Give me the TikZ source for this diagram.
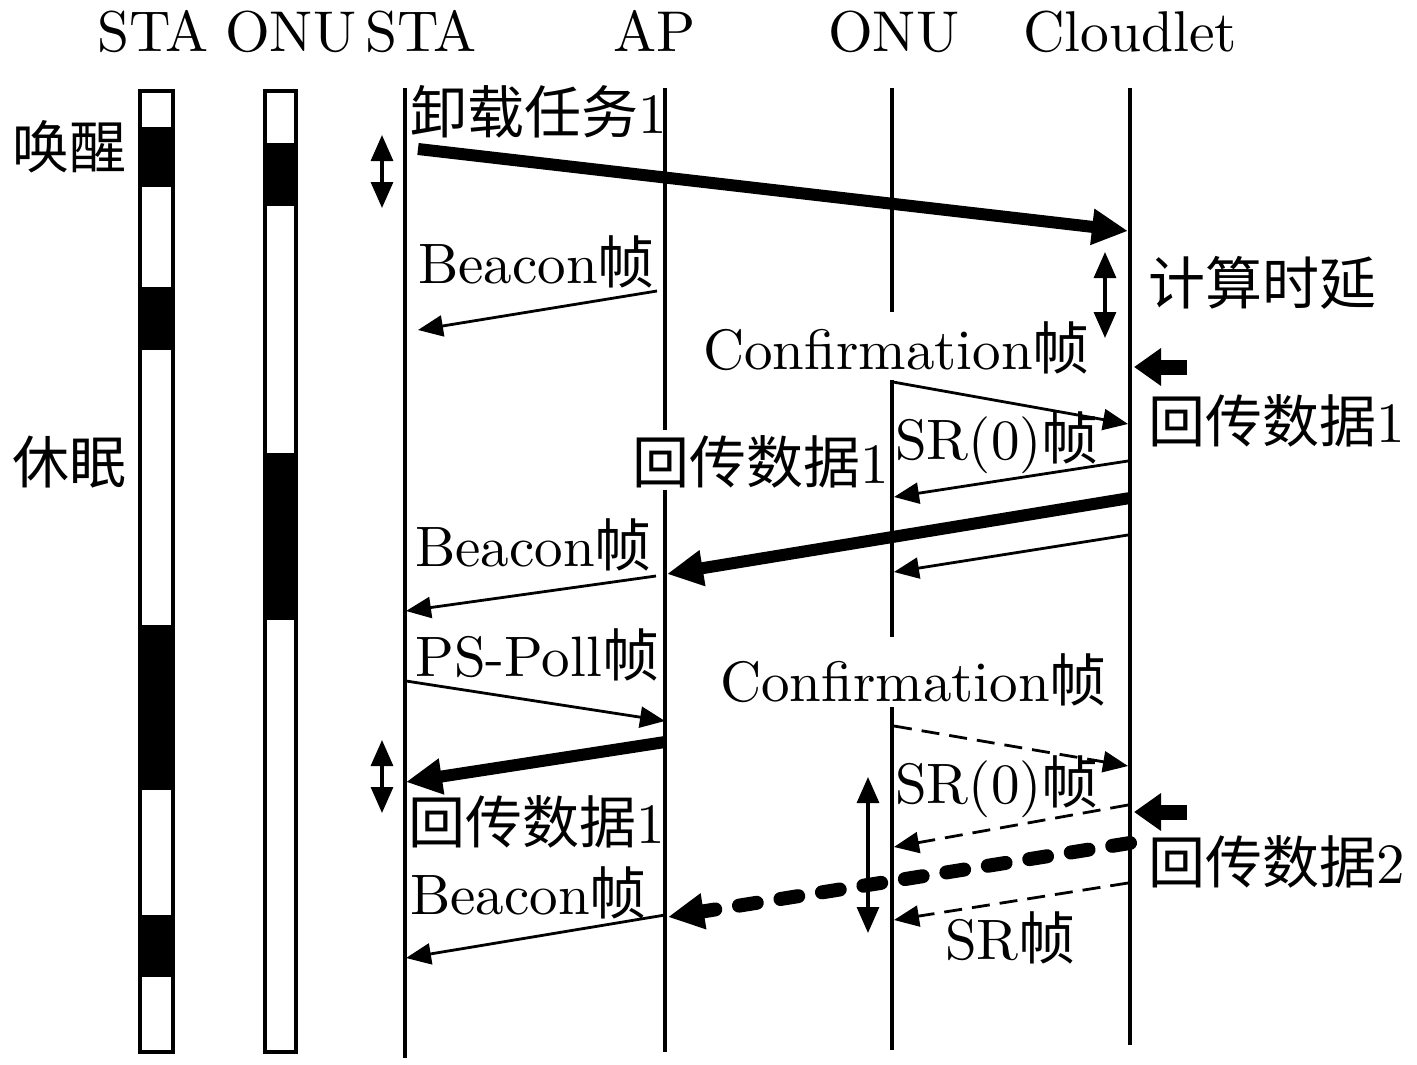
\documentclass[tikz,border=0pt]{standalone}
\usepackage{fontspec}
\setmainfont{lmroman10-regular.otf}
\newfontfamily\cjk{Noto Sans CJK SC}
\usetikzlibrary{arrows.meta}
\begin{document}
\begin{tikzpicture}[x=1pt,y=-1pt,
  life/.style={line width=3.5pt},
  barbox/.style={draw,line width=3.5pt},
  lbl/.style={inner sep=0pt,anchor=west,font=\fontsize{57}{62}\selectfont},
  hdr/.style={inner sep=0pt,anchor=base west,font=\fontsize{57.5}{62}\selectfont},
  thinarr/.style={line width=2.8pt,-{Triangle[length=25pt,width=21pt]}},
  thickarr/.style={line width=12pt,-{Triangle[length=36pt,width=34pt]}},
  dbl/.style={line width=3.2pt,{Triangle[length=26pt,width=22pt]}-{Triangle[length=26pt,width=22pt]}},
  blockarr/.style={line width=15pt,-{Triangle[length=27pt,width=36pt]}},
  dsh/.style={dash pattern=on 18pt off 10pt},
  thickdsh/.style={line width=14pt,line cap=round,dash pattern=on 18pt off 24pt}
]
\useasboundingbox (0,0) rectangle (1417,1065);
% headers
\node[hdr] (h1) at (97,52) {STA};
\node[hdr] (h2) at (225,52) {ONU};
\node[hdr] (h3) at (365,52) {STA};
\node[hdr] (h4) at (613,52) {AP};
\node[hdr] (h5) at (828,52) {ONU};
\node[hdr] (h6) at (1023,52) {Cloudlet};
% left labels
\node[lbl] (wake) at (12,147) {\cjk 唤醒};
\node[lbl] (sleep) at (12,462) {\cjk 休眠};
% STA bar
\fill (140,127) rectangle (173,187);
\fill (140,287) rectangle (173,350);
\fill (140,625) rectangle (173,790);
\fill (140,915) rectangle (173,977);
\draw[barbox] (140,91) rectangle (173,1052);
% ONU bar
\fill (265,143) rectangle (296,206);
\fill (265,453) rectangle (296,620);
\draw[barbox] (265,91) rectangle (296,1052);
% lifelines
\coordinate (staT) at (405,88); \coordinate (staB) at (405,1058);
\draw[life] (staT) -- (staB);
\coordinate (apT) at (665,88); \coordinate (apG1) at (665,430);
\coordinate (apG2) at (665,490); \coordinate (apB) at (665,1052);
\draw[life] (apT) -- (apG1) (apG2) -- (apB);
\coordinate (onuT) at (892,88); \coordinate (onuG1) at (892,312);
\coordinate (onuG2) at (892,380); \coordinate (onuG3) at (892,637);
\coordinate (onuG4) at (892,707); \coordinate (onuB) at (892,1050);
\draw[life] (onuT) -- (onuG1) (onuG2) -- (onuG3) (onuG4) -- (onuB);
\coordinate (clT) at (1130,88); \coordinate (clB) at (1130,1045);
\draw[life] (clT) -- (clB);
% labels
\node[lbl] (t1) at (410,112) {{\cjk 卸载任务}1};
\node[lbl] (t2) at (418,262) {Beacon{\cjk 帧}};
\node[lbl] (t3) at (1148,283) {\cjk 计算时延};
\node[lbl] (t4) at (703,348) {Confirmation{\cjk 帧}};
\node[lbl] (t5) at (1148,421) {{\cjk 回传数据}1};
\node[lbl] (t6) at (895,443) {SR(0){\cjk 帧}};
\node[lbl] (t7) at (632,462) {{\cjk 回传数据}1};
\node[lbl] (t8) at (415,545) {Beacon{\cjk 帧}};
\node[lbl] (t9) at (415,655) {PS-Poll{\cjk 帧}};
\node[lbl] (t10) at (720,680) {Confirmation{\cjk 帧}};
\node[lbl] (t11) at (895,787) {SR(0){\cjk 帧}};
\node[lbl] (t12) at (408,822) {{\cjk 回传数据}1};
\node[lbl] (t13) at (1148,862) {{\cjk 回传数据}2};
\node[lbl] (t14) at (410,893) {Beacon{\cjk 帧}};
\node[lbl] (t15) at (945,938) {SR{\cjk 帧}};
% message endpoints
\coordinate (m1a) at (418,149); \coordinate (m1b) at (1128,231);
\coordinate (m2a) at (657,291); \coordinate (m2b) at (418,330);
\coordinate (m3a) at (382,135); \coordinate (m3b) at (382,208);
\coordinate (m4a) at (1105,252); \coordinate (m4b) at (1105,338);
\coordinate (m5a) at (1187,367); \coordinate (m5b) at (1134,367);
\coordinate (m6a) at (893,382); \coordinate (m6b) at (1128,424);
\coordinate (m7a) at (1128,461); \coordinate (m7b) at (894,497);
\coordinate (m8a) at (1130,498); \coordinate (m8b) at (667,574);
\coordinate (m9a) at (1128,535); \coordinate (m9b) at (894,572);
\coordinate (m10a) at (656,576); \coordinate (m10b) at (406,611);
\coordinate (m11a) at (406,681); \coordinate (m11b) at (665,721);
\coordinate (m12a) at (665,742); \coordinate (m12b) at (406,782);
\coordinate (m13a) at (382,740); \coordinate (m13b) at (382,813);
\coordinate (m14a) at (894,726); \coordinate (m14b) at (1128,766);
\coordinate (m15a) at (1187,812); \coordinate (m15b) at (1134,812);
\coordinate (m16a) at (1128,805); \coordinate (m16b) at (894,847);
\coordinate (m17a) at (1130,843); \coordinate (m17b) at (668,917);
\coordinate (m18a) at (1128,883); \coordinate (m18b) at (894,920);
\coordinate (m19a) at (868,777); \coordinate (m19b) at (868,933);
\coordinate (m20a) at (665,915); \coordinate (m20b) at (406,958);
% messages
\draw[thickarr] (m1a) -- (m1b);
\draw[thinarr] (m2a) -- (m2b);
\draw[dbl] (m3a) -- (m3b);
\draw[dbl] (m4a) -- (m4b);
\draw[blockarr] (m5a) -- (m5b);
\draw[thinarr] (m6a) -- (m6b);
\draw[thinarr] (m7a) -- (m7b);
\draw[thickarr] (m8a) -- (m8b);
\draw[thinarr] (m9a) -- (m9b);
\draw[thinarr] (m10a) -- (m10b);
\draw[thinarr] (m11a) -- (m11b);
\draw[thickarr] (m12a) -- (m12b);
\draw[dbl] (m13a) -- (m13b);
\draw[thinarr,dsh] (m14a) -- (m14b);
\draw[blockarr] (m15a) -- (m15b);
\draw[thinarr,dsh] (m16a) -- (m16b);
\draw[thickarr,thickdsh] (m17a) -- (m17b);
\draw[thinarr,dsh] (m18a) -- (m18b);
\draw[dbl] (m19a) -- (m19b);
\draw[thinarr] (m20a) -- (m20b);
\end{tikzpicture}
\end{document}
